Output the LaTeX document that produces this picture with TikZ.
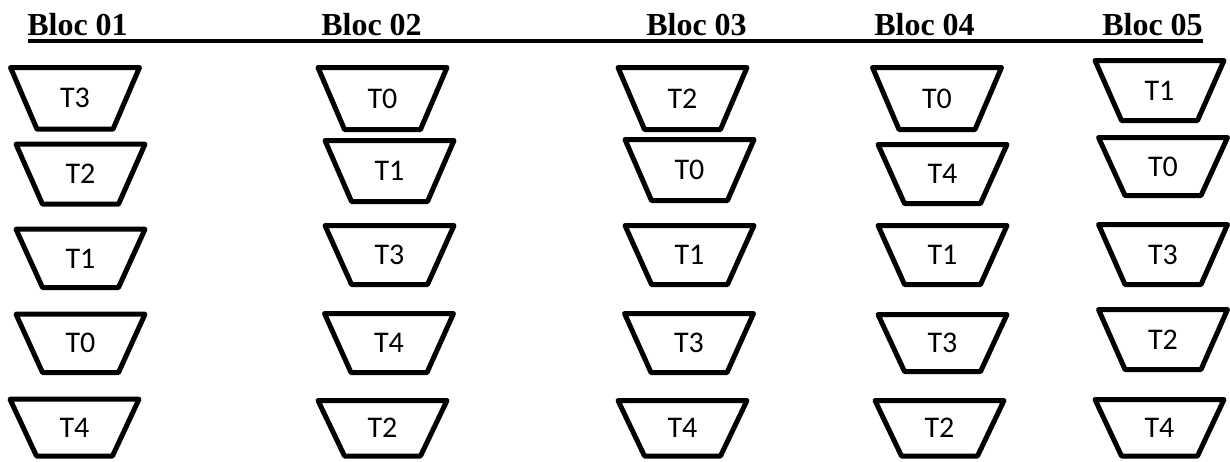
\documentclass[tikz,border=0pt]{standalone}
\usepackage{fontspec}
\setmainfont{Liberation Serif}
\newfontfamily\lblfont{Carlito}
\begin{document}
\begin{tikzpicture}[x=0.75pt,y=-0.75pt,
  trapline/.style={line width=3.75pt,line join=round,line cap=round},
  lbl/.style={font=\lblfont\fontsize{22.5pt}{26pt}\selectfont,inner sep=0pt},
  title/.style={font=\bfseries\fontsize{24pt}{28pt}\selectfont,anchor=base west,inner sep=0pt}]
\useasboundingbox (0,0) rectangle (1230,461);
% titles
\node[title] (b1) at (27,35) {Bloc 01};
\node[title] (b2) at (321,35) {Bloc 02};
\node[title] (b3) at (646,35) {Bloc 03};
\node[title] (b4) at (874,35) {Bloc 04};
\node[title] (b5) at (1102,35) {Bloc 05};
\coordinate (ulA) at (28,41.3);
\coordinate (ulB) at (1203,41.3);
\draw[line width=3pt] (ulA) -- (ulB);
% trapezoids: name/cx/outer top/outer bottom/label
\foreach \n/\cx/\t/\b/\l in {
 a1/75/65/131.7/T3, a2/80.5/141.7/206.7/T2, a3/80.5/226.7/290/T1, a4/80.5/311.7/375/T0, a5/74.5/396.7/458.5/T4,
 c1/382.5/65/132/T0, c2/389.5/138/204/T1, c3/389.5/223/287/T3, c4/389/311/375/T4, c5/382.5/398/458.5/T2,
 d1/682.5/65/132/T2, d2/689.5/137/203/T0, d3/689.5/223/287/T1, d4/689/311/375/T3, d5/682.5/398/458.5/T4,
 e1/937/65/132/T0, e2/942.5/142/206/T4, e3/942.5/223/287/T1, e4/942.5/312/374/T3, e5/939.5/398/458.5/T2,
 f1/1159.5/58/123/T1, f2/1163/135/198/T0, f3/1163/222/287/T3, f4/1163/307/372/T2, f5/1159.5/397/458.5/T4}
{
  \pgfmathsetmacro{\ytop}{\t+2.5}
  \pgfmathsetmacro{\ybot}{\b-2.5}
  \pgfmathsetmacro{\ymid}{(\ytop+\ybot)/2}
  \draw[trapline] (\cx-64.5,\ytop) -- (\cx+64.5,\ytop) -- (\cx+38,\ybot) -- (\cx-38,\ybot) -- cycle;
  \node[lbl] (\n) at (\cx,\ymid) {\l};
}
\end{tikzpicture}
\end{document}
